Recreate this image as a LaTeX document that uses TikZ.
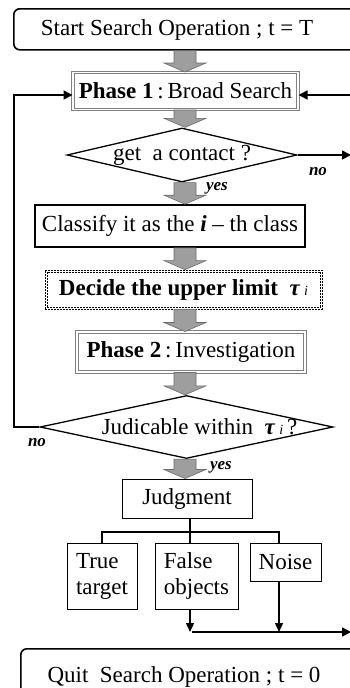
\documentclass[tikz,border=0pt]{standalone}
\usepackage{fontspec}
\setmainfont{Liberation Serif}
\usepackage{xcolor}
\definecolor{arrowFill}{gray}{0.62}
\definecolor{arrowEdge}{gray}{0.42}
\definecolor{phaseGray}{gray}{0.50}
\usepackage{tikz}
\usetikzlibrary{calc,shapes.geometric,arrows.meta}

% wide grey arrow between two boxes, on the spine
\newcommand{\flowarrow}[2]{%
  \filldraw[fill=arrowFill, draw=arrowEdge, line width=0.6pt]
    let \p1=(#1.south -| spine), \p2=(#2.north -| spine) in
    (\x1-11pt,\y1) -- (\x1+11pt,\y1) -- (\x1+11pt,\y2+9pt) -- (\x1+21pt,\y2+9pt)
    -- (\x1,\y2) -- (\x1-21pt,\y2+9pt) -- (\x1-11pt,\y2+9pt) -- cycle;}

\begin{document}
\begin{tikzpicture}[x=1pt, y=-1pt, >={Triangle[length=9pt,width=9pt]},
  every node/.style={font=\fontsize{23}{26}\selectfont, inner sep=0pt},
  termbox/.style={draw, rounded corners=6pt, line width=1.6pt},
  phasebox/.style={draw=phaseGray, double, line width=1pt, double distance=1.2pt},
  limitedge/.style={draw, line width=0.7pt, dash pattern=on 2pt off 1pt},
  plainbox/.style={draw, line width=1pt},
  decision/.style={draw, diamond, aspect=4, line width=1.3pt},
  branchlabel/.style={font=\fontsize{17}{19}\selectfont\bfseries\itshape},
  flowline/.style={line width=1.6pt},
  treeline/.style={line width=1.4pt, >={Triangle[length=9pt,width=8pt]}}]
  \useasboundingbox (0,0) rectangle (350,688);
  \clip (0,0) rectangle (350,688);
  \coordinate (spine) at (185,0);
  % ------- boxes -------
  \node[termbox, minimum width=380pt, minimum height=41pt, anchor=north west] (start) at (13,8) {};
  \node[anchor=base] (starttxt) at (177,35) {Start Search Operation ; t = T};
  \node[phasebox, minimum width=225pt, minimum height=37pt] (phase1) at (185.5,91)
    {\textbf{Phase 1}\,:\,Broad Search};
  \node[decision, minimum width=230pt, minimum height=54pt] (contact) at (182,155)
    {\makebox[0pt]{get\ \ a contact ?}};
  \node[plainbox, line width=1.6pt, minimum width=270pt, minimum height=42pt] (classify) at (170,226)
    {Classify it as the \textbf{\textit{i}} – th class};
  \node[limitedge, minimum width=277pt, minimum height=39pt] (limit) at (183.5,289.5)
    {\textbf{Decide the upper limit\ \ \textit{τ}}\,{\fontsize{14}{16}\selectfont\itshape i}};
  \draw[limitedge] ($(limit.south west)+(2.2,-2.2)$) rectangle ($(limit.north east)+(-2.2,2.2)$);
  \node[phasebox, minimum width=228pt, minimum height=40pt] (phase2) at (191,352)
    {\textbf{Phase 2}\,:\,Investigation};
  \node[decision, minimum width=293pt, minimum height=63pt] (judicable) at (186.5,427)
    {\makebox[0pt]{\hspace{26pt}Judicable within\ \ \textbf{\textit{τ}}\,{\fontsize{14}{16}\selectfont\itshape i}\,?}};
  \node[plainbox, minimum width=130pt, minimum height=39pt] (judgment) at (187,498.5) {Judgment};
  \node[plainbox, minimum width=70pt, minimum height=66pt, align=left] (truetgt) at (102,576) {True\\target};
  \node[plainbox, minimum width=83pt, minimum height=66pt, align=left] (falseobj) at (196.5,576) {False\\objects};
  \node[plainbox, minimum width=71pt, minimum height=38pt] (noise) at (285.5,562) {Noise};
  \node[termbox, minimum width=380pt, minimum height=60pt, anchor=north west] (quit) at (20,648) {};
  \node[anchor=base] (quittxt) at (184,682) {Quit\ \ Search Operation ; t = 0};
  % ------- grey arrows down the spine -------
  \flowarrow{start}{phase1}
  \flowarrow{phase1}{contact}
  \flowarrow{contact}{classify}
  \flowarrow{classify}{limit}
  \flowarrow{limit}{phase2}
  \flowarrow{phase2}{judicable}
  \flowarrow{judicable}{judgment}
  % ------- loops and exits -------
  \coordinate (loopL) at (14,0);
  \coordinate (rightin) at (352,95);
  \coordinate (noout) at (351,155);
  \draw[flowline, ->] (judicable.west) -- (judicable.west -| loopL) |- ($(phase1.west)+(0,4)$);
  \draw[flowline, ->] (rightin) -- (rightin -| phase1.east);
  \draw[flowline, ->] (contact.east) -- (noout);
  \node[branchlabel] (no1) at (318,172) {no};
  \node[branchlabel] (yes1) at (217,188) {yes};
  \node[branchlabel] (no2) at (37,443) {no};
  \node[branchlabel] (yes2) at (221,467) {yes};
  % ------- judgment tree -------
  \coordinate (split) at (190,532);
  \coordinate (noisedrop) at (279,0);
  \coordinate (merge) at (190,632);
  \coordinate (exit) at (351,632);
  \draw[treeline] (split |- judgment.south) -- (split |- falseobj.north);
  \draw[treeline] (truetgt.north) |- (split) -| (noise.north -| noisedrop);
  \draw[treeline, ->] (falseobj.south -| split) -- (merge);
  \draw[treeline, ->] (noise.south -| noisedrop) -- (noisedrop |- merge);
  \draw[flowline, ->] ($(merge)+(2,0)$) -- (exit);
\end{tikzpicture}
\end{document}
